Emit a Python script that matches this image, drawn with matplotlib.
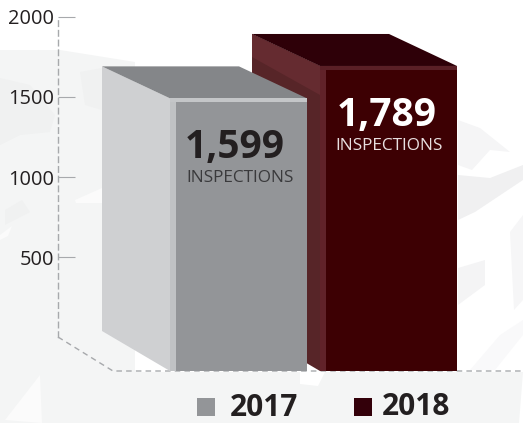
import matplotlib
matplotlib.use("Agg")
import matplotlib.pyplot as plt
from matplotlib.patches import Polygon, Rectangle

years = ["2017", "2018"]
inspections = [1599, 1789]
value_ticks = [500, 1000, 1500, 2000]

W, H = 523, 423
BASE = 371          # pixel row of the bars' front edge
PX_PER_VALUE = 0.1705
DEPTH_X, DEPTH_Y = 68, 32
BAR_W = 137
bar_left = [170, 320]

front = ["#939598", "#3d0003"]
top = ["#848689", "#2e0008"]
side = ["#cfd0d2", "#572528"]
edge = ["#c0c2c4", "#612229"]
top_edge = ["#c4c6c8", "#5a1f26"]
text_col = ["#231f20", "white"]
sub_col = ["#3a3a3c", "#e8dfe0"]
num_x = [15, 17]
sub_x = [16, 15]
legend_col = ["#939598", "#33000a"]
legend_xy = [(197, 230, 416), (354, 382, 415)]

# faint map shapes behind the chart: (colour, outline in pixels)
backdrop = [
    ("#f4f5f5", [(0, 50), (60, 50), (135, 62), (135, 372), (0, 372)]),
    ("#f4f5f5", [(0, 372), (523, 372), (519, 423), (0, 423)]),
    ("#f0f1f1", [(0, 78), (30, 85), (55, 115), (50, 132), (20, 135), (0, 145)]),
    ("#f0f1f1", [(80, 72), (102, 68), (102, 110), (85, 105)]),
    ("#f0f1f1", [(5, 210), (22, 200), (30, 212), (5, 225)]),
    ("#fbfbfb", [(0, 235), (12, 226), (8, 236), (0, 240)]),
    ("#fbfbfb", [(75, 200), (102, 188), (102, 203), (76, 203)]),
    ("#fbfbfb", [(5, 420), (40, 375), (42, 423)]),
    ("#ffffff", [(300, 372), (325, 372), (318, 386), (300, 384)]),
    ("#f5f5f6", [(458, 120), (480, 128), (510, 152), (490, 150), (472, 170), (458, 165)]),
    ("#f0f0f1", [(458, 175), (490, 178), (523, 165), (523, 180), (475, 212), (458, 220)]),
    ("#f4f4f5", [(458, 268), (485, 260), (485, 285), (458, 305)]),
    ("#f6f6f7", [(510, 232), (523, 215), (523, 300), (514, 310)]),
    ("#f9f9fa", [(470, 370), (500, 335), (523, 320), (523, 335), (495, 370)]),
]

plt.rcParams["font.family"] = ["Open Sans", "DejaVu Sans"]
fig = plt.figure(figsize=(W / 100, H / 100), dpi=100, facecolor="white")

# pixel layer for the backdrop, floor guide and legend
bg = fig.add_axes([0, 0, 1, 1], zorder=0)
bg.set_xlim(0, W)
bg.set_ylim(H, 0)
bg.axis("off")
for col, pts in backdrop:
    bg.add_patch(Polygon(pts, facecolor=col, edgecolor="none"))
bg.plot([58, 113, W], [337, 371, 371], color="#a7a9ac", lw=1, ls=(0, (4, 3)))

# value axis on its own scale
ax_val = fig.add_axes([58 / W, (H - 337) / H, 20 / W, 320 / H], zorder=1)
ax_val.patch.set_visible(False)
ax_val.set_ylim(0, 2000)
ax_val.set_xticks([])
ax_val.set_yticks(value_ticks)
ax_val.tick_params(axis="y", direction="in", length=12.5, width=0.8, color="#a7a9ac",
                   pad=3, labelsize=14.4, labelcolor="#231f20")
for s in ["top", "right", "bottom"]:
    ax_val.spines[s].set_visible(False)
ax_val.spines["left"].set_color("#a7a9ac")
ax_val.spines["left"].set_linewidth(1)
ax_val.spines["left"].set_linestyle((0, (4, 3)))

# bars: x in pixels, y in inspections
ax = fig.add_axes([0, 0, 1, 1], zorder=2)
ax.patch.set_visible(False)
ax.set_xlim(0, W)
ax.set_ylim((BASE - H) / PX_PER_VALUE, BASE / PX_PER_VALUE)
ax.axis("off")
dy = DEPTH_Y / PX_PER_VALUE
strip = 4 / PX_PER_VALUE

for i in [1, 0]:
    x, v = bar_left[i], inspections[i]
    r = x + BAR_W
    ax.add_patch(Polygon([(x - DEPTH_X, v + dy), (x, v), (x, 0), (x - DEPTH_X, 40 / PX_PER_VALUE)],
                         facecolor=side[i], edgecolor="none"))
    if i == 1:
        # lighter band on the upper part of the dark side wall
        ax.add_patch(Polygon([(x - DEPTH_X, v + dy), (x, v), (x, v - 29 / PX_PER_VALUE),
                              (x - DEPTH_X, v + dy - 23 / PX_PER_VALUE)],
                             facecolor="#652b30", edgecolor="none"))
    ax.add_patch(Polygon([(x - DEPTH_X, v + dy), (r - DEPTH_X, v + dy), (r, v), (x, v)],
                         facecolor=top[i], edgecolor="none"))
    ax.add_patch(Rectangle((x, 0), BAR_W, v, facecolor=edge[i], edgecolor="none"))
    ax.add_patch(Rectangle((x, v - strip), BAR_W, strip, facecolor=top_edge[i], edgecolor="none"))
    ax.add_patch(Rectangle((x + 6, 0), BAR_W - 6, v - strip, facecolor=front[i], edgecolor="none"))
    ax.text(x + num_x[i], v - 60 / PX_PER_VALUE, f"{v:,}", fontsize=28, fontweight="bold",
            color=text_col[i], ha="left", va="baseline")
    ax.text(x + sub_x[i], v - 84 / PX_PER_VALUE, "INSPECTIONS", fontsize=12.4,
            color=sub_col[i], ha="left", va="baseline")

# legend
for i, (sq_x, txt_x, y) in enumerate(legend_xy):
    bg.add_patch(Rectangle((sq_x, 398), 18, 18, facecolor=legend_col[i], edgecolor="none"))
    bg.text(txt_x, y, years[i], fontsize=21.5, fontweight="bold", color="#231f20", ha="left", va="baseline")

fig.savefig("out.png", dpi=100)
